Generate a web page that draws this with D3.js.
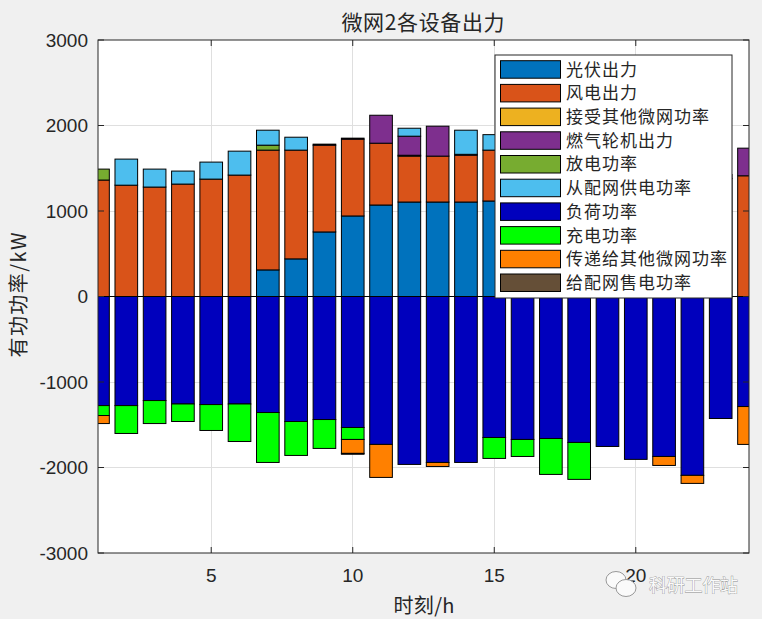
<!DOCTYPE html>
<html>
<head>
<meta charset="utf-8">
<script src="https://cdn.jsdelivr.net/npm/d3@7/dist/d3.min.js"></script>
<style>
  html, body { margin: 0; padding: 0; background: #F0F0F0; }
  svg { display: block; }
  .num { font-family: "Liberation Sans", Arial, sans-serif; }
  .cjk { font-family: "Noto Sans CJK SC", "Noto Sans", sans-serif; }
</style>
</head>
<body>
<svg id="chart" width="762" height="619"></svg>
<script>
// ---- data ----
const hours = [1,2,3,4,5,6,7,8,9,10,11,12,13,14,15,16,17,18,19,20,21,22,23,24];
const pv        = [0,0,0,0,0,0,311,440,755,942,1070,1105,1105,1105,1117,1080,1000,850,600,350,100,0,0,0];
const wind      = [1362,1302,1280,1315,1373,1420,1401,1272,1015,898,723,537,537,548,595,600,700,800,900,1100,1250,1350,1380,1412];
const receive   = [0,0,0,0,0,0,0,0,0,0,0,10,0,0,0,0,0,0,0,0,0,0,0,0];
const gas       = [0,0,0,0,0,0,0,0,12,12,327,223,350,10,0,0,381,489,254,455,626,836,47,323];
const discharge = [128,0,0,0,0,0,58,0,0,0,0,0,0,0,0,0,0,0,0,0,0,0,0,0];
const gridBuy   = [0,305,210,152,199,280,175,151,0,0,0,93,0,282,181,191,0,0,0,0,0,0,0,0];
const load      = [1276,1276,1217,1257,1264,1257,1357,1462,1439,1532,1730,1964,1941,1941,1649,1672,1661,1707,1754,1905,1871,2092,1427,1287];
const charge    = [116,326,269,205,303,439,584,397,338,140,0,0,0,0,245,199,420,432,0,0,0,0,0,0];
const transfer  = [94,0,0,0,0,0,0,0,0,163,386,0,47,0,0,0,0,0,0,0,105,94,0,443];
const sell      = [0,0,0,0,0,0,0,0,0,10,0,0,0,0,0,0,0,0,0,0,0,0,0,0];

const seriesNames = ["光伏出力","风电出力","接受其他微网功率","燃气轮机出力","放电功率","从配网供电功率","负荷功率","充电功率","传递给其他微网功率","给配网售电功率"];
const seriesColors = ["#0072BD","#D95319","#EDB120","#7E2F8E","#77AC30","#4DBEEE","#0000BD","#00FF00","#FF8000","#654F37"];
const yTicks = [-3000,-2000,-1000,0,1000,2000,3000];
const xTicks = [5,10,15,20];
const titleText = "微网2各设备出力";
const xLabel = "时刻/h";
const yLabel = "有功功率/kW";

// ---- build table ----
const keys = ["pv","wind","receive","gas","discharge","gridBuy","load","charge","transfer","sell"];
const rows = hours.map((h,i) => ({
  h,
  pv: pv[i], wind: wind[i], receive: receive[i], gas: gas[i], discharge: discharge[i], gridBuy: gridBuy[i],
  load: -load[i], charge: -charge[i], transfer: -transfer[i], sell: -sell[i]
}));
const stacked = d3.stack().keys(keys).offset(d3.stackOffsetDiverging)(rows);

// ---- layout ----
const L = 98, R = 749, T = 40, B = 553;
const svg = d3.select("#chart");
const x = d3.scaleLinear().domain([1,24]).range([L,R]);
const y = d3.scaleLinear().domain([-3000,3000]).range([B,T]);
const bw = x(1.8) - x(1);
const axisColor = "#262626";

svg.append("rect").attr("width",762).attr("height",619).attr("fill","#F0F0F0");
svg.append("rect").attr("x",L).attr("y",T).attr("width",R-L).attr("height",B-T).attr("fill","#fff");

svg.append("defs").append("clipPath").attr("id","clip")
  .append("rect").attr("x",L).attr("y",T).attr("width",R-L).attr("height",B-T);

// grid
const grid = svg.append("g");
grid.selectAll("line.gx").data(xTicks).join("line")
  .attr("x1",d=>x(d)).attr("x2",d=>x(d)).attr("y1",T).attr("y2",B)
  .attr("stroke","#DFDFDF").attr("stroke-width",1).attr("shape-rendering","crispEdges");
grid.selectAll("line.gy").data(yTicks.filter(d=>d>-3000 && d<3000)).join("line")
  .attr("x1",L).attr("x2",R).attr("y1",d=>y(d)).attr("y2",d=>y(d))
  .attr("stroke","#DFDFDF").attr("stroke-width",1).attr("shape-rendering","crispEdges");

// bars
const plot = svg.append("g").attr("clip-path","url(#clip)");
stacked.forEach((s,si) => {
  plot.append("g").selectAll("rect").data(s.filter(d => d[1]-d[0] !== 0)).join("rect")
    .attr("x", d => x(d.data.h) - bw/2)
    .attr("width", bw)
    .attr("y", d => y(Math.max(d[0],d[1])))
    .attr("height", d => Math.abs(y(d[0]) - y(d[1])))
    .attr("fill", seriesColors[si])
    .attr("stroke", "#000").attr("stroke-width", 1);
});
// baseline
plot.append("line").attr("x1",L).attr("x2",R).attr("y1",y(0)).attr("y2",y(0))
  .attr("stroke","#000").attr("stroke-width",1);

// axes box and ticks
const ax = svg.append("g");
ax.append("rect").attr("x",L).attr("y",T).attr("width",R-L).attr("height",B-T)
  .attr("fill","none").attr("stroke",axisColor).attr("stroke-width",1);
const tl = 6;
yTicks.forEach(v => {
  ax.append("line").attr("x1",L).attr("x2",L+tl).attr("y1",y(v)).attr("y2",y(v)).attr("stroke",axisColor);
  ax.append("line").attr("x1",R).attr("x2",R-tl).attr("y1",y(v)).attr("y2",y(v)).attr("stroke",axisColor);
  ax.append("text").attr("class","num").attr("x",L-10).attr("y",y(v)).attr("dy","0.35em")
    .attr("text-anchor","end").attr("font-size",19).attr("fill",axisColor).text(v);
});
xTicks.forEach(v => {
  ax.append("line").attr("x1",x(v)).attr("x2",x(v)).attr("y1",B).attr("y2",B-tl).attr("stroke",axisColor);
  ax.append("line").attr("x1",x(v)).attr("x2",x(v)).attr("y1",T).attr("y2",T+tl).attr("stroke",axisColor);
  ax.append("text").attr("class","num").attr("x",x(v)).attr("y",582)
    .attr("text-anchor","middle").attr("font-size",19).attr("fill",axisColor).text(v);
});

// title & labels
svg.append("text").attr("class","cjk").attr("x",423).attr("y",30).attr("text-anchor","middle")
  .attr("font-size",21).attr("fill",axisColor).attr("textLength",163).attr("lengthAdjust","spacing").text(titleText);
svg.append("text").attr("class","cjk").attr("x",424).attr("y",613).attr("text-anchor","middle")
  .attr("font-size",20).attr("fill",axisColor).attr("textLength",61).attr("lengthAdjust","spacing").text(xLabel);
svg.append("text").attr("class","cjk").attr("transform","translate(26,295) rotate(-90)").attr("text-anchor","middle")
  .attr("font-size",20).attr("fill",axisColor).attr("textLength",125).attr("lengthAdjust","spacing").text(yLabel);

// legend
const lg = svg.append("g");
lg.append("rect").attr("x",495).attr("y",55).attr("width",237).attr("height",243)
  .attr("fill","#fff").attr("stroke",axisColor).attr("stroke-width",1);
seriesNames.forEach((name,i) => {
  const ry = 60.7 + i*23.7;
  lg.append("rect").attr("x",500.5).attr("y",ry).attr("width",60).attr("height",17.5)
    .attr("fill",seriesColors[i]).attr("stroke","#000").attr("stroke-width",1);
  lg.append("text").attr("class","cjk").attr("x",566).attr("y",ry+8.8).attr("dy","0.36em")
    .attr("font-size",17).attr("letter-spacing",1).attr("fill",axisColor).text(name);
});

// watermark
const wm = svg.append("g");
wm.append("ellipse").attr("cx",616).attr("cy",580).attr("rx",10).attr("ry",8.5)
  .attr("fill","#fafafa").attr("stroke","#999").attr("stroke-width",1);
wm.append("ellipse").attr("cx",626).attr("cy",588).attr("rx",10).attr("ry",8.5)
  .attr("fill","#fafafa").attr("stroke","#999").attr("stroke-width",1);
wm.append("text").attr("class","cjk").attr("x",649).attr("y",592)
  .attr("font-size",18).attr("fill","#fafafa").attr("stroke","#8a8a8a").attr("stroke-width",0.7)
  .attr("paint-order","stroke").attr("textLength",89).attr("lengthAdjust","spacing").text("科研工作站");
</script>
</body>
</html>
